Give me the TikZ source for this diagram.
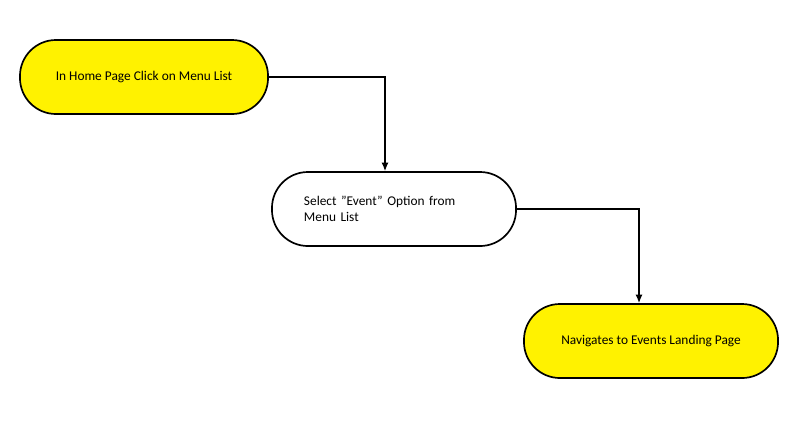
\documentclass[tikz,border=0pt]{standalone}
\usepackage{fontspec}
\setmainfont{Carlito}
\usetikzlibrary{arrows.meta, calc}

\tikzset{
    stepnode/.style={draw=black, line width=1.2pt, rounded corners=0.9cm,
        minimum height=1.85cm, inner sep=2pt, font=\fontsize{9.5}{11.5}\selectfont},
    flow/.style={-{Latex[length=6pt,width=5pt]}, line width=1pt}
}

\begin{document}
\begin{tikzpicture}[x=0.025cm, y=-0.025cm]
    \useasboundingbox (0,0) rectangle (800,430);

    % Steps
    \node[stepnode, fill=yellow, minimum width=6.2cm] (home) at (144,77) {In Home Page Click on Menu List};
    \node[stepnode, fill=white, minimum width=6.1cm, align=left, text width=4.8cm] (select) at (394,209)
        {\hspace*{0.15cm}Select "Event" Option from\\\hspace*{0.15cm}Menu List};
    \node[stepnode, fill=yellow, minimum width=6.35cm] (land) at (651,341) {Navigates to Events Landing Page};

    % Connectors
    \draw[flow] (home.east) -| ($(select.north)+(-9,0)$);
    \draw[flow] (select.east) -| ($(land.north)+(-12,0)$);
\end{tikzpicture}
\end{document}
